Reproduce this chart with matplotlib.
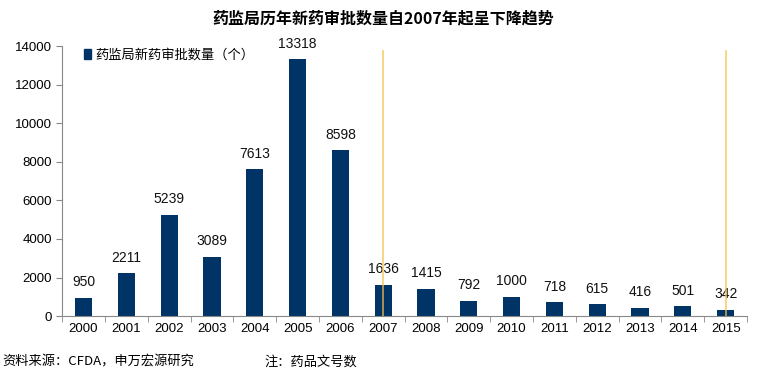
import numpy as np
import matplotlib.pyplot as plt
from matplotlib.patches import Patch

plt.rcParams['font.family'] = ['Liberation Sans', 'Noto Sans CJK SC', 'DejaVu Sans']

# Data
years = ['2000', '2001', '2002', '2003', '2004', '2005', '2006', '2007',
         '2008', '2009', '2010', '2011', '2012', '2013', '2014', '2015']
approvals = [950, 2211, 5239, 3089, 7613, 13318, 8598, 1636,
             1415, 792, 1000, 718, 615, 416, 501, 342]
marked_years = ['2007', '2015']

bar_color = '#003366'
cjk = ['Noto Sans CJK SC', 'DejaVu Sans']

fig = plt.figure(figsize=(7.67, 3.75), dpi=100)
ax = fig.add_axes([0.081, 0.157, 0.893, 0.72])

x = np.arange(len(years))
ax.bar(x, approvals, width=0.4, color=bar_color, zorder=2)
for xi, v in zip(x, approvals):
    ax.text(xi, v + 450, str(v), ha='center', va='bottom', fontsize=10, color='#111111')

# orange markers
for yr in marked_years:
    i = years.index(yr)
    ax.plot([i, i], [0, 13750], color='#f7c04a', lw=1.2, alpha=0.8, zorder=3)

ax.set_xlim(-0.5, len(years) - 0.5)
ax.set_ylim(0, 14000)
ax.set_yticks(np.arange(0, 14001, 2000))
ax.set_xticks(x)
ax.set_xticklabels(years)
ax.set_xticks(np.arange(-0.5, len(years)), minor=True)
ax.tick_params(axis='x', which='major', length=0, labelsize=9.5, pad=5)
ax.tick_params(axis='x', which='minor', length=4, color='#888888', direction='out')
ax.tick_params(axis='y', length=4, color='#888888', labelsize=9.5)

for s in ['top', 'right']:
    ax.spines[s].set_visible(False)
ax.spines['left'].set_color('#888888')
ax.spines['bottom'].set_color('#888888')

leg = ax.legend(handles=[Patch(color=bar_color)], labels=['药监局新药审批数量（个）'],
                loc='upper left', bbox_to_anchor=(0.015, 1.035), frameon=False,
                handlelength=0.5, handleheight=0.8, handletextpad=0.3,
                prop={'family': cjk, 'size': 9.5})

fig.text(0.5, 0.952, '药监局历年新药审批数量自2007年起呈下降趋势', ha='center', va='center',
         fontsize=11.5, fontweight='bold', family=cjk)
fig.text(0.003, 0.034, '资料来源：CFDA，申万宏源研究', ha='left', va='center',
         fontsize=9.5, family=cjk)
fig.text(0.345, 0.034, '注：药品文号数', ha='left', va='center',
         fontsize=9.5, family=cjk)

fig.savefig('out.png', dpi=100)
